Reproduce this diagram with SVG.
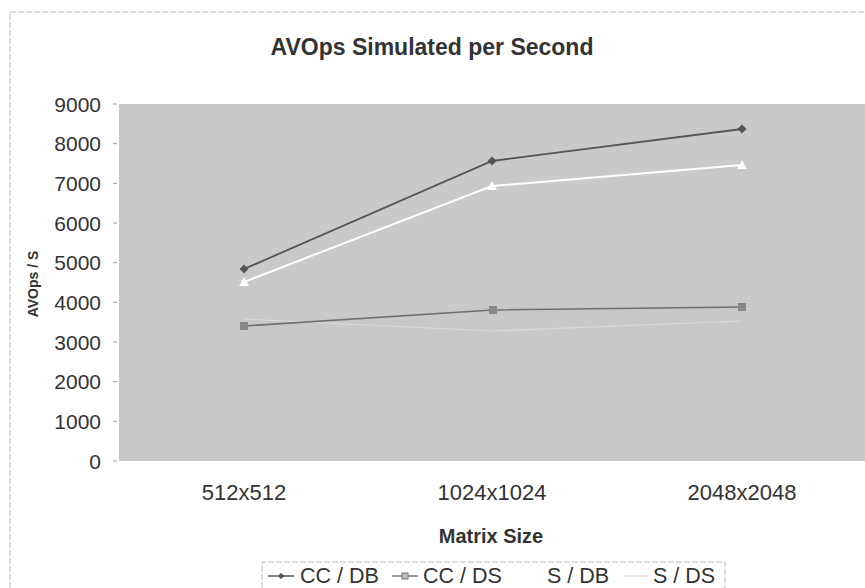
<svg xmlns="http://www.w3.org/2000/svg" width="865" height="588" viewBox="0 0 865 588">
  <style>
    text { font-family: "Liberation Sans", Arial, sans-serif; fill: #333; }
    .title { font-size: 23px; font-weight: bold; }
    .axis-title { font-size: 20px; font-weight: bold; }
    .ytitle { font-size: 14px; font-weight: bold; }
    .tick { font-size: 21px; text-anchor: end; }
    .cat { font-size: 22px; text-anchor: middle; }
    .leg { font-size: 21.5px; }
    .frame { fill: none; stroke: #b8b8b8; stroke-width: 1; stroke-dasharray: 6 2; }
    .tickmark { stroke: #999; stroke-width: 1; }
    .s-ccdb { fill: none; stroke: #555; stroke-width: 1.8; }
    .s-ccds { fill: none; stroke: #707070; stroke-width: 1.6; }
    .s-sdb { fill: none; stroke: #fff; stroke-width: 2; }
    .s-sds { fill: none; stroke: #dadada; stroke-width: 1.2; }
    .m-ccdb { fill: #555; }
    .m-ccds { fill: #888; }
    .m-sdb { fill: #fff; }
  </style>
  <defs>
    <path id="diamond" d="M0,-4.5 L4.5,0 L0,4.5 L-4.5,0 Z"/>
    <rect id="square" x="-4" y="-4" width="8" height="8"/>
    <path id="tri" d="M0,-5 L5,4 L-5,4 Z"/>
  </defs>

  <rect width="865" height="588" fill="#fff"/>
  <!-- outer chart frame -->
  <path class="frame" d="M10,588 V12 H865"/>

  <text class="title" x="432" y="55" text-anchor="middle">AVOps Simulated per Second</text>

  <!-- plot area -->
  <g id="plot-area">
    <rect x="119" y="104" width="746" height="357" fill="#c9c9c9"/>
  </g>

  <!-- value axis -->
  <g id="y-axis">
    <g class="tickmark">
      <line x1="113" y1="104" x2="117" y2="104"/>
      <line x1="113" y1="143.7" x2="117" y2="143.7"/>
      <line x1="113" y1="183.3" x2="117" y2="183.3"/>
      <line x1="113" y1="223" x2="117" y2="223"/>
      <line x1="113" y1="262.7" x2="117" y2="262.7"/>
      <line x1="113" y1="302.3" x2="117" y2="302.3"/>
      <line x1="113" y1="342" x2="117" y2="342"/>
      <line x1="113" y1="381.7" x2="117" y2="381.7"/>
      <line x1="113" y1="421.3" x2="117" y2="421.3"/>
      <line x1="113" y1="461" x2="117" y2="461"/>
    </g>
    <text class="tick" x="101" y="111.5">9000</text>
    <text class="tick" x="101" y="151.2">8000</text>
    <text class="tick" x="101" y="190.8">7000</text>
    <text class="tick" x="101" y="230.5">6000</text>
    <text class="tick" x="101" y="270.2">5000</text>
    <text class="tick" x="101" y="309.8">4000</text>
    <text class="tick" x="101" y="349.5">3000</text>
    <text class="tick" x="101" y="389.2">2000</text>
    <text class="tick" x="101" y="428.8">1000</text>
    <text class="tick" x="101" y="468.5">0</text>
    <text class="ytitle" transform="translate(38,284) rotate(-90)" text-anchor="middle">AVOps / S</text>
  </g>

  <!-- category axis -->
  <g id="x-axis">
    <text class="cat" x="244" y="500">512x512</text>
    <text class="cat" x="492" y="500">1024x1024</text>
    <text class="cat" x="742" y="500">2048x2048</text>
    <text class="axis-title" x="491" y="543" text-anchor="middle">Matrix Size</text>
  </g>

  <!-- data series -->
  <g id="series">
    <g id="series-s-ds">
      <polyline class="s-sds" points="244,319 492,331 742,321"/>
    </g>
    <g id="series-cc-ds">
      <polyline class="s-ccds" points="244,326 493,310 742,307"/>
      <use href="#square" class="m-ccds" x="244" y="326"/>
      <use href="#square" class="m-ccds" x="493" y="310"/>
      <use href="#square" class="m-ccds" x="742" y="307"/>
    </g>
    <g id="series-s-db">
      <polyline class="s-sdb" points="244,282 492,186 742,165"/>
      <use href="#tri" class="m-sdb" x="244" y="282"/>
      <use href="#tri" class="m-sdb" x="492" y="186"/>
      <use href="#tri" class="m-sdb" x="742" y="165"/>
    </g>
    <g id="series-cc-db">
      <polyline class="s-ccdb" points="244,269 492,161 742,129"/>
      <use href="#diamond" class="m-ccdb" x="244" y="269"/>
      <use href="#diamond" class="m-ccdb" x="492" y="161"/>
      <use href="#diamond" class="m-ccdb" x="742" y="129"/>
    </g>
  </g>

  <!-- legend -->
  <g id="legend">
    <path class="frame" d="M262,588 V562 H725 V588"/>
    <line x1="268" y1="576" x2="294" y2="576" stroke="#555" stroke-width="1.5"/>
    <use href="#diamond" class="m-ccdb" transform="translate(281,576) scale(0.7)"/>
    <text class="leg" x="300" y="583">CC / DB</text>
    <line x1="392" y1="576" x2="418" y2="576" stroke="#777" stroke-width="1.5"/>
    <rect x="402" y="573" width="6" height="6" fill="#bbb" stroke="#777" stroke-width="1"/>
    <text class="leg" x="423" y="583">CC / DS</text>
    <line x1="515" y1="576" x2="541" y2="576" stroke="#fff" stroke-width="1.5"/>
    <text class="leg" x="547" y="583">S / DB</text>
    <line x1="623" y1="576" x2="648" y2="576" stroke="#d8d8d8" stroke-width="1.2"/>
    <text class="leg" x="653" y="583">S / DS</text>
  </g>
</svg>
